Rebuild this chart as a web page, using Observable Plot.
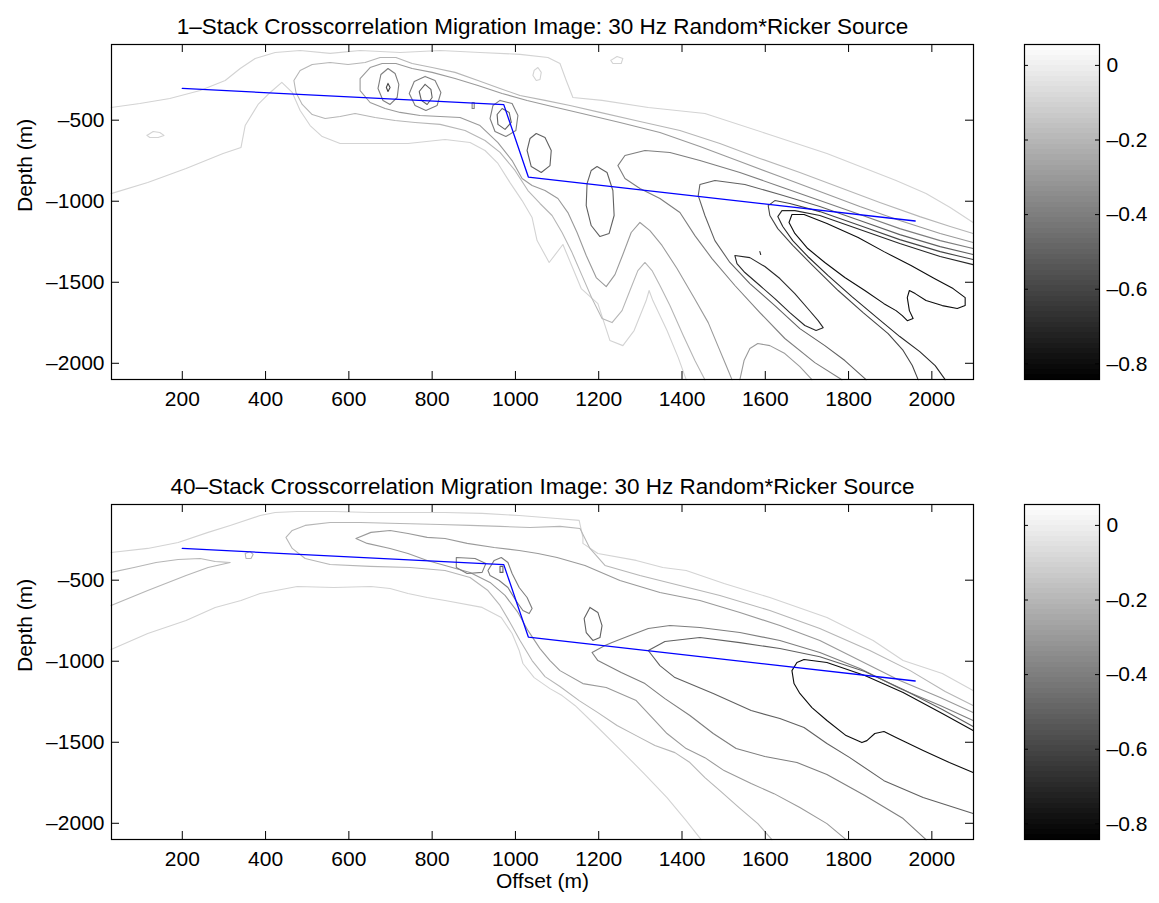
<!DOCTYPE html>
<html><head><meta charset="utf-8">
<script src="https://cdn.jsdelivr.net/npm/d3@7"></script>
<script src="https://cdn.jsdelivr.net/npm/@observablehq/plot@0.6"></script>
<style>
body{margin:0;background:#fff;}
#root{position:relative;width:1159px;height:903px;background:#fff;font-family:"Liberation Sans",Arial,sans-serif;}
.abs{position:absolute;}
</style></head><body><div id="root"></div>
<script>
const titles = ["1\u2013Stack Crosscorrelation Migration Image: 30 Hz Random*Ricker Source",
                "40\u2013Stack Crosscorrelation Migration Image: 30 Hz Random*Ricker Source"];
const xTicks = [200,400,600,800,1000,1200,1400,1600,1800,2000];
const yTicks = [-500,-1000,-1500,-2000];
const cbTicks = [0,-0.2,-0.4,-0.6,-0.8];
const xDomain = [30,2100];
const yDomain = [-2100,-33];
const cDomain = [-0.842,0.056];
const blueOffset = [200,972,1031,1960];
const blueDepth = [-304,-404,-851,-1122];

// ---------- top panel (1-stack) contour lines: [offset, depth] ----------
const t01_upper = [[29,-422],[98,-397],[170,-366],[243,-317],[303,-255],[339,-181],[375,-119],[423,-82],[483,-70],[555,-88],[627,-70],[723,-82],[819,-70],[915,-82],[1011,-94],[1078,-113],[1107,-150],[1122,-255],[1138,-360],[1208,-378],[1319,-422],[1455,-459],[1602,-582],[1748,-706],[1914,-872],[1986,-952],[2044,-1039],[2099,-1131]];
const t01_lower = [[29,-953],[117,-885],[209,-798],[298,-706],[341,-668],[351,-533],[382,-403],[411,-329],[439,-267],[464,-329],[483,-440],[507,-533],[536,-601],[579,-644],[653,-644],[742,-644],[831,-619],[891,-638],[927,-687],[958,-767],[987,-885],[1016,-996],[1040,-1101],[1052,-1243],[1081,-1378],[1114,-1267],[1158,-1539],[1198,-1632],[1227,-1860],[1258,-1891],[1285,-1798],[1314,-1613],[1321,-1551],[1330,-1613],[1364,-1798],[1391,-1965],[1410,-2101]];
const t01_dotA = [[1045,-193],[1054,-175],[1062,-205],[1059,-249],[1050,-255],[1042,-224],[1045,-193]];
const t01_dotB = [[1229,-131],[1244,-107],[1258,-119],[1254,-150],[1234,-150],[1229,-131]];
const t01_dotC = [[115,-594],[130,-570],[146,-576],[156,-594],[142,-607],[122,-607],[115,-594]];
const t02 = [[1455,-2101],[1431,-1983],[1403,-1829],[1371,-1644],[1347,-1520],[1328,-1428],[1311,-1378],[1294,-1428],[1275,-1551],[1256,-1675],[1232,-1749],[1208,-1724],[1184,-1601],[1160,-1459],[1136,-1317],[1112,-1193],[1088,-1088],[1059,-1014],[1030,-934],[999,-810],[963,-699],[927,-625],[879,-564],[819,-526],[759,-514],[711,-502],[663,-483],[615,-459],[579,-477],[543,-490],[512,-465],[488,-403],[473,-329],[468,-255],[483,-193],[512,-156],[555,-144],[598,-156],[639,-144],[675,-113],[713,-113],[752,-150],[800,-175],[855,-205],[910,-255],[963,-304],[1011,-348],[1071,-378],[1131,-409],[1203,-452],[1299,-508],[1395,-564],[1491,-644],[1587,-736],[1683,-823],[1779,-915],[1875,-1008],[1971,-1095],[2044,-1156],[2099,-1199]];
const t03 = [[2099,-1255],[2020,-1199],[1923,-1119],[1827,-1033],[1731,-940],[1635,-848],[1539,-755],[1443,-662],[1347,-576],[1251,-514],[1160,-459],[1088,-415],[1028,-378],[968,-335],[910,-286],[855,-243],[800,-205],[752,-181],[713,-150],[680,-150],[651,-175],[627,-243],[627,-317],[651,-391],[687,-428],[723,-452],[771,-471],[819,-477],[867,-483],[915,-533],[958,-638],[992,-749],[1016,-860],[1040,-903],[1071,-934],[1102,-983],[1126,-1070],[1148,-1193],[1170,-1335],[1194,-1471],[1218,-1527],[1239,-1453],[1258,-1329],[1278,-1193],[1299,-1131],[1323,-1181],[1352,-1273],[1388,-1415],[1429,-1595],[1463,-1749],[1487,-1897],[1506,-2014],[1520,-2101]];
const t03_arch = [[1539,-2101],[1549,-1983],[1563,-1909],[1582,-1878],[1611,-1891],[1647,-1940],[1683,-2021],[1712,-2101]];
const t04 = [[2099,-1292],[2020,-1243],[1923,-1169],[1827,-1082],[1731,-996],[1635,-909],[1539,-823],[1443,-749],[1371,-699],[1311,-687],[1263,-718],[1246,-780],[1263,-860],[1299,-922],[1347,-983],[1395,-1070],[1431,-1212],[1472,-1354],[1527,-1520],[1587,-1687],[1647,-1847],[1719,-1996],[1784,-2101]];
const t04_blobA = [[694,-181],[711,-212],[720,-279],[716,-360],[699,-403],[682,-378],[670,-304],[677,-218],[694,-181]];
const t04_blobB = [[783,-230],[807,-255],[821,-329],[812,-409],[785,-440],[759,-409],[745,-335],[757,-261],[783,-230]];
const t04_blobC = [[963,-378],[992,-397],[1006,-471],[1001,-564],[977,-601],[951,-570],[939,-490],[946,-409],[963,-378]];
const t04_speck = [[896,-391],[901,-391],[901,-428],[896,-428],[896,-391]];
const t05 = [[2099,-1329],[2020,-1280],[1923,-1206],[1827,-1119],[1731,-1033],[1635,-959],[1551,-897],[1479,-872],[1443,-897],[1439,-965],[1455,-1088],[1479,-1243],[1515,-1378],[1563,-1508],[1623,-1644],[1683,-1786],[1743,-1891],[1791,-1983],[1842,-2101]];
const t05_blobB = [[783,-279],[797,-310],[800,-360],[788,-403],[774,-378],[769,-323],[783,-279]];
const t05_blobC = [[968,-428],[985,-452],[990,-514],[975,-557],[958,-526],[956,-465],[968,-428]];
const t05_blobD = [[1050,-582],[1071,-607],[1086,-687],[1083,-780],[1062,-823],[1038,-786],[1028,-687],[1035,-613],[1050,-582]];
const t05_blobE = [[1196,-786],[1220,-823],[1234,-934],[1237,-1088],[1225,-1199],[1203,-1218],[1182,-1150],[1170,-1027],[1172,-891],[1182,-810],[1196,-786]];
const t06 = [[2099,-1360],[2020,-1311],[1923,-1237],[1827,-1150],[1731,-1064],[1659,-1014],[1623,-996],[1607,-1027],[1611,-1088],[1630,-1169],[1666,-1273],[1714,-1397],[1775,-1551],[1835,-1687],[1895,-1817],[1931,-1921],[1953,-2014],[1967,-2101]];
const t06_blobA = [[694,-273],[699,-298],[694,-323],[690,-298],[694,-273]];
const t07 = [[2099,-1391],[2020,-1341],[1923,-1261],[1827,-1175],[1731,-1088],[1671,-1058],[1640,-1058],[1630,-1095],[1642,-1156],[1666,-1243],[1702,-1341],[1751,-1459],[1808,-1589],[1871,-1724],[1923,-1835],[1971,-1928],[2008,-2014],[2032,-2101]];
const t07_finger = [[1527,-1335],[1563,-1348],[1599,-1403],[1635,-1477],[1671,-1570],[1702,-1662],[1727,-1737],[1739,-1780],[1722,-1798],[1695,-1767],[1659,-1687],[1623,-1601],[1587,-1520],[1551,-1440],[1532,-1385],[1527,-1335]];
const t07_speck = [[1587,-1311],[1589,-1329]];
const t08_core = [[1664,-1082],[1693,-1082],[1748,-1138],[1823,-1224],[1885,-1311],[1950,-1397],[2006,-1477],[2051,-1539],[2080,-1595],[2080,-1644],[2061,-1662],[2025,-1644],[1986,-1613],[1960,-1570],[1946,-1551],[1941,-1595],[1946,-1675],[1955,-1724],[1941,-1737],[1929,-1706],[1914,-1675],[1885,-1632],[1839,-1551],[1791,-1471],[1743,-1378],[1702,-1292],[1671,-1199],[1657,-1131],[1664,-1082]];

// ---------- bottom panel (40-stack) contour lines ----------
const b01_upper = [[29,-329],[117,-304],[190,-267],[262,-205],[315,-162],[387,-101],[423,-82],[476,-76],[564,-76],[653,-82],[742,-82],[831,-82],[920,-88],[1009,-101],[1100,-119],[1153,-131],[1162,-236],[1162,-273],[1198,-335],[1290,-378],[1354,-422],[1410,-440],[1501,-520],[1611,-607],[1748,-730],[1859,-872],[1931,-996],[2025,-1076],[2099,-1181]];
const b01_lower = [[29,-928],[117,-829],[209,-749],[279,-668],[341,-625],[387,-582],[476,-539],[564,-545],[653,-539],[699,-551],[742,-582],[788,-607],[831,-625],[920,-668],[966,-730],[992,-829],[1009,-934],[1018,-1014],[1045,-1101],[1083,-1169],[1112,-1212],[1143,-1273],[1198,-1409],[1254,-1551],[1309,-1693],[1364,-1841],[1410,-1983],[1446,-2101]];
const b02_tongue = [[29,-452],[84,-422],[137,-391],[190,-372],[243,-366],[279,-385],[315,-391],[262,-422],[209,-471],[117,-564],[29,-656]];
const b02_dot = [[351,-335],[363,-323],[370,-341],[365,-366],[353,-366],[351,-335]];
const b02 = [[2099,-1273],[2032,-1187],[1948,-1058],[1851,-934],[1731,-798],[1611,-687],[1491,-594],[1395,-533],[1299,-471],[1215,-409],[1179,-304],[1155,-181],[1107,-168],[1035,-175],[963,-168],[891,-162],[819,-156],[723,-150],[627,-144],[555,-144],[495,-162],[464,-193],[449,-236],[464,-304],[495,-366],[555,-403],[651,-415],[747,-422],[831,-440],[891,-483],[934,-564],[963,-656],[987,-761],[1011,-872],[1040,-996],[1071,-1095],[1107,-1156],[1153,-1243],[1198,-1317],[1244,-1397],[1290,-1459],[1335,-1520],[1383,-1564],[1419,-1625],[1455,-1718],[1491,-1798],[1537,-1903],[1582,-2002],[1616,-2101]];
const b03 = [[2099,-1317],[2020,-1224],[1923,-1119],[1827,-996],[1731,-872],[1635,-780],[1539,-699],[1443,-625],[1347,-576],[1251,-502],[1167,-409],[1100,-360],[1054,-335],[1009,-317],[949,-298],[884,-273],[831,-243],[788,-236],[742,-212],[699,-193],[653,-205],[617,-243],[644,-273],[699,-304],[742,-335],[788,-378],[831,-409],[891,-452],[939,-514],[975,-594],[1006,-699],[1030,-810],[1059,-922],[1083,-996],[1107,-1058],[1162,-1138],[1218,-1162],[1290,-1243],[1335,-1366],[1364,-1446],[1410,-1539],[1455,-1595],[1501,-1675],[1566,-1755],[1621,-1817],[1683,-1903],[1748,-2002],[1794,-2101]];
const b04 = [[2099,-1366],[2020,-1273],[1923,-1169],[1827,-1045],[1731,-946],[1635,-872],[1539,-823],[1443,-792],[1371,-780],[1319,-798],[1275,-841],[1232,-885],[1215,-903],[1184,-946],[1198,-996],[1254,-1070],[1311,-1138],[1359,-1231],[1419,-1335],[1475,-1446],[1530,-1539],[1599,-1588],[1676,-1625],[1748,-1699],[1839,-1829],[1931,-1971],[1986,-2101]];
const b04_loopP = [[858,-360],[903,-366],[929,-397],[920,-452],[884,-459],[858,-422],[858,-360]];
const b04_loopQ = [[934,-440],[949,-378],[966,-360],[982,-391],[992,-459],[1009,-545],[1028,-607],[1040,-675],[1033,-706],[1018,-687],[1001,-625],[982,-545],[961,-502],[939,-471],[934,-440]];
const b05 = [[2099,-1403],[2025,-1298],[1931,-1175],[1839,-1064],[1731,-972],[1635,-922],[1539,-885],[1443,-854],[1359,-878],[1319,-934],[1347,-1027],[1383,-1101],[1475,-1199],[1566,-1304],[1635,-1354],[1693,-1409],[1748,-1508],[1803,-1595],[1885,-1737],[1979,-1841],[2099,-1940]];
const b05_loopR = [[963,-415],[970,-415],[970,-452],[963,-452],[963,-415]];
const b05_loopS = [[1179,-668],[1198,-699],[1208,-780],[1203,-854],[1186,-872],[1170,-823],[1165,-736],[1179,-668]];
const b08_core = [[2099,-1428],[2025,-1323],[1931,-1193],[1839,-1088],[1748,-1008],[1693,-989],[1676,-1008],[1664,-1058],[1669,-1138],[1683,-1199],[1712,-1286],[1748,-1366],[1794,-1459],[1832,-1502],[1844,-1490],[1863,-1446],[1885,-1434],[1914,-1471],[1979,-1551],[2042,-1625],[2099,-1687]];

const topLines = [
  [-0.1, t01_upper],[-0.1, t01_lower],[-0.1, t01_dotA],[-0.1, t01_dotB],[-0.1, t01_dotC],
  [-0.2, t02],[-0.3, t03],[-0.3, t03_arch],
  [-0.4, t04],[-0.4, t04_blobA],[-0.4, t04_blobB],[-0.4, t04_blobC],[-0.4, t04_speck],
  [-0.5, t05],[-0.5, t05_blobB],[-0.5, t05_blobC],[-0.5, t05_blobD],[-0.5, t05_blobE],
  [-0.6, t06],[-0.6, t06_blobA],
  [-0.7, t07],[-0.7, t07_finger],[-0.7, t07_speck],[-0.8, t08_core]
];
const bottomLines = [
  [-0.1, b01_upper],[-0.1, b01_lower],
  [-0.2, b02_tongue],[-0.2, b02_dot],[-0.2, b02],
  [-0.3, b03],
  [-0.4, b04],[-0.4, b04_loopP],[-0.4, b04_loopQ],
  [-0.5, b05],[-0.5, b05_loopR],[-0.5, b05_loopS],
  [-0.8, b08_core]
];

const FONT = "Liberation Sans, Arial, Helvetica, sans-serif";
const colorScale = {type:"linear", domain:cDomain, range:["#000000","#ffffff"], interpolate:"rgb"};
const fmtNum = d => d === 0 ? "0" : (d < 0 ? "\u2013" : "") + Math.abs(d);

function mainPlot(panel, lines, isBottom) {
  const W = 1000, mL = 111, mR = 27, mT = 44, mB = isBottom ? 64 : 41;
  const ph = 335, H = mT + ph + mB, pw = W - mL - mR;
  const rows = [];
  lines.forEach(([level, pts], i) => pts.forEach(p => rows.push({id: i, level, x: p[0], y: p[1]})));
  const blue = blueOffset.map((x, i) => ({x, y: blueDepth[i]}));
  const marks = [
    Plot.line(rows, {x:"x", y:"y", z:"id", stroke:"level", strokeWidth:1.1, curve:"linear"}),
    Plot.line(blue, {x:"x", y:"y", stroke:"#0000ff", strokeWidth:1.3}),
    Plot.frame({stroke:"black", strokeWidth:1.2}),
    Plot.tickX(xTicks, {x:d=>d, stroke:"black", insetTop: ph - 8}),
    Plot.tickX(xTicks, {x:d=>d, stroke:"black", insetBottom: ph - 8}),
    Plot.tickY(yTicks, {y:d=>d, stroke:"black", insetRight: pw - 8}),
    Plot.tickY(yTicks, {y:d=>d, stroke:"black", insetLeft: pw - 8}),
    Plot.axisX(xTicks, {anchor:"bottom", tickSize:0, tickPadding:12, label:null, tickFormat: fmtNum}),
    Plot.axisY(yTicks, {anchor:"left", tickSize:0, tickPadding:7, label:null, tickFormat: fmtNum}),
    Plot.text([titles[panel]], {frameAnchor:"top", dy:-26, fontSize:22.5, fill:"black"}),
    Plot.text(["Depth (m)"], {frameAnchor:"left", dx:-86, rotate:-90, fontSize:21, fill:"black"}),
  ];
  if (isBottom) marks.push(Plot.text(["Offset (m)"], {frameAnchor:"bottom", dy:48, fontSize:21, fill:"black"}));
  return Plot.plot({
    width: W, height: H, marginLeft: mL, marginRight: mR, marginTop: mT, marginBottom: mB,
    x: {domain: xDomain, axis: null},
    y: {domain: yDomain, axis: null},
    color: colorScale,
    style: {fontFamily: FONT, fontSize: "21px", background: "transparent", color: "black", overflow: "visible"},
    marks
  });
}

function colorbar() {
  const W = 159, mL = 24, mR = 60, mT = 44, mB = 41, H = mT + 335 + mB;
  const pw = W - mL - mR;
  let fillMark;
  if (Plot.raster) {
    fillMark = Plot.raster({x1:0, x2:1, y1:cDomain[0], y2:cDomain[1], width:1, height:64,
      fill:(x, y) => y, imageRendering:"pixelated"});
  } else {
    const n = 64, step = (cDomain[1]-cDomain[0])/n;
    const cells = d3.range(n).map(i => ({y1: cDomain[0]+i*step, y2: cDomain[0]+(i+1)*step}));
    fillMark = Plot.rect(cells, {x1:0, x2:1, y1:"y1", y2:"y2", fill:d=>(d.y1+d.y2)/2});
  }
  return Plot.plot({
    width: W, height: H, marginLeft: mL, marginRight: mR, marginTop: mT, marginBottom: mB,
    x: {domain:[0,1], axis:null},
    y: {domain: cDomain, axis:null},
    color: colorScale,
    style: {fontFamily: FONT, fontSize: "21px", background: "transparent", color: "black", overflow:"visible"},
    marks: [
      fillMark,
      Plot.frame({stroke:"black", strokeWidth:1.2}),
      Plot.tickY(cbTicks, {y:d=>d, stroke:"black", insetRight: pw - 4}),
      Plot.tickY(cbTicks, {y:d=>d, stroke:"black", insetLeft: pw - 4}),
      Plot.axisY(cbTicks, {anchor:"right", tickSize:0, tickPadding:7, label:null, tickFormat: fmtNum})
    ]
  });
}

const root = document.getElementById("root");
[[0, topLines, 0, false], [1, bottomLines, 460, true]].forEach(([panel, lines, top, isBottom]) => {
  const m = mainPlot(panel, lines, isBottom);
  m.classList.add("abs"); m.style.left = "0px"; m.style.top = top + "px";
  root.appendChild(m);
  const cb = colorbar();
  cb.classList.add("abs"); cb.style.left = "1000px"; cb.style.top = top + "px";
  root.appendChild(cb);
});
</script></body></html>
